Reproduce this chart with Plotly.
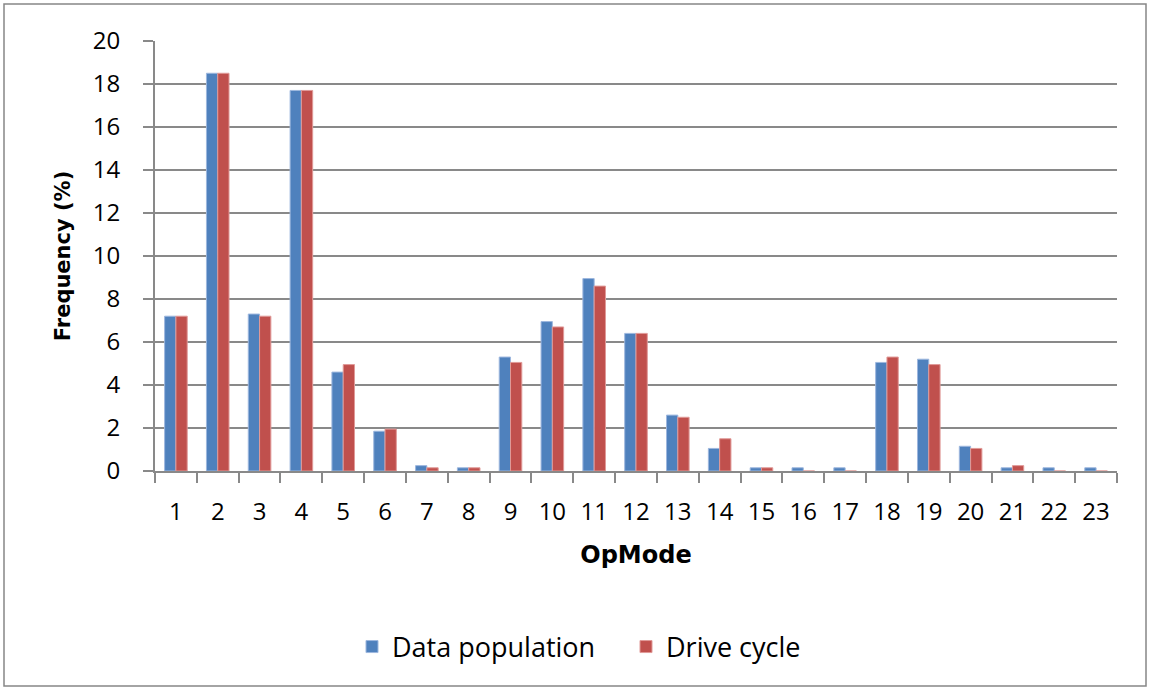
import plotly.graph_objects as go

opmodes = [str(i) for i in range(1, 24)]
data_population = [7.2, 18.5, 7.3, 17.7, 4.6, 1.85, 0.25, 0.15, 5.3, 6.95, 8.95, 6.4,
                   2.6, 1.05, 0.15, 0.15, 0.15, 5.05, 5.2, 1.15, 0.15, 0.15, 0.15]
drive_cycle = [7.2, 18.5, 7.2, 17.7, 4.95, 1.95, 0.15, 0.15, 5.05, 6.7, 8.6, 6.4,
               2.5, 1.5, 0.15, 0, 0, 5.3, 4.95, 1.05, 0.25, 0, 0]

W, H = 1151, 690
L, R, T, B = 155, 34, 41, 219
pw, ph = W - L - R, H - T - B

def px_x(p):
    return (p - L) / pw

def px_y(p):
    return (H - B - p) / ph

font_fam = "Open Sans, sans-serif"

fig = go.Figure()
fig.add_trace(go.Bar(x=opmodes, y=data_population, name="Data population",
                     marker=dict(color="#4F81BD", line=dict(color="#9DB7DE", width=1))))
fig.add_trace(go.Bar(x=opmodes, y=drive_cycle, name="Drive cycle",
                     marker=dict(color="#C0504D", line=dict(color="#E09A98", width=1))))

fig.update_layout(
    width=W, height=H,
    margin=dict(l=L, r=R, t=T, b=B),
    paper_bgcolor="white", plot_bgcolor="white",
    barmode="group", bargap=0.46, bargroupgap=0,
    font=dict(family=font_fam, size=22, color="black"),
    showlegend=True,
    legend=dict(orientation="h", x=px_x(352), y=px_y(647), xanchor="left", yanchor="middle",
                font=dict(family=font_fam, size=27), itemwidth=30, tracegroupgap=0,
                entrywidth=229, entrywidthmode="pixels",
                bgcolor="rgba(0,0,0,0)"),
    xaxis=dict(type="category", showgrid=False, showline=True, linecolor="#898989", linewidth=2,
               ticks="outside", tickson="boundaries", ticklen=10, tickwidth=2, tickcolor="#898989",
               ticklabelstandoff=18,
               tickfont=dict(family=font_fam, size=24),
               title=dict(text="<b>OpMode</b>", font=dict(family="DejaVu Sans", size=24), standoff=20)),
    yaxis=dict(range=[0, 20], dtick=2, showgrid=True, gridcolor="#898989", gridwidth=2,
               showline=True, linecolor="#898989", linewidth=2, zeroline=False,
               ticks="outside", ticklen=10, tickwidth=2, tickcolor="#898989",
               ticklabelstandoff=18,
               tickfont=dict(family=font_fam, size=24),
               title=dict(text="<b>Frequency (%)</b>", font=dict(family="DejaVu Sans", size=21), standoff=16)),
    shapes=[dict(type="rect", xref="paper", yref="paper",
                 x0=px_x(4), x1=px_x(1146), y0=px_y(686), y1=px_y(4),
                 line=dict(color="#868686", width=1.5), fillcolor="rgba(0,0,0,0)", layer="below")],
)

fig.write_html("out.html", config={"displayModeBar": False},
               post_script="document.body.style.margin='0';document.body.style.overflow='hidden';")
